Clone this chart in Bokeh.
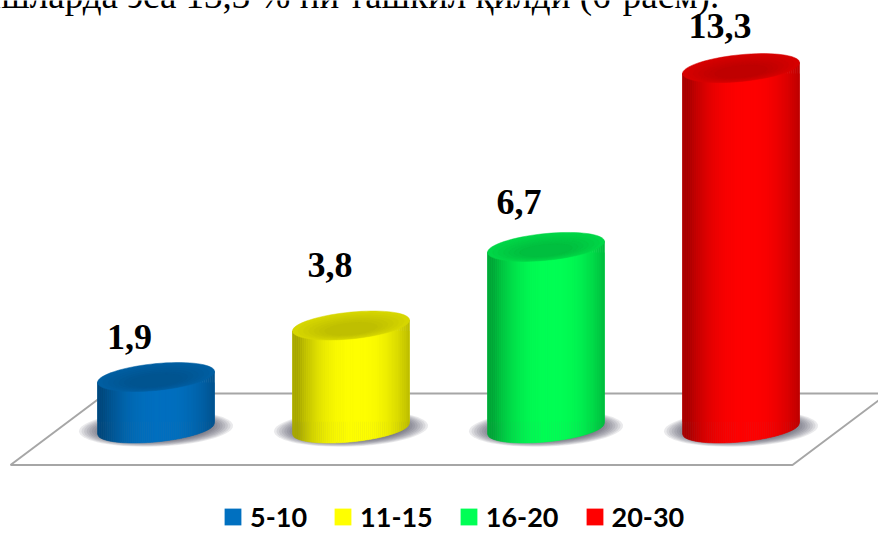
import numpy as np
from bokeh.plotting import figure
from bokeh.models import Range1d, Legend, LegendItem
from bokeh.core.properties import value
from bokeh.embed import file_html
from bokeh.resources import INLINE

categories = ["5-10", "11-15", "16-20", "20-30"]
values = [1.9, 3.8, 6.7, 13.3]
colors = ["#0070C0", "#FFFF00", "#00FF55", "#FF0000"]
caption = "ишларда эса 13,3 % ни ташкил қилди (6-расм)."

W, H = 878, 533
X0, DX = 155.5, 195.0      # px of first bar, px between bars
Y0, KY = 428.0, 27.1       # px of value 0, px per unit

def ix(px):
    return (np.asarray(px, dtype=float) - X0) / DX

def iy(px):
    return (Y0 - np.asarray(px, dtype=float)) / KY

p = figure(width=W, height=H, output_backend="svg", toolbar_location=None,
           x_range=Range1d(float(ix(0)), float(ix(W))),
           y_range=Range1d(float(iy(H)), float(iy(0))),
           min_border=0)
p.axis.visible = False
p.grid.visible = False
p.outline_line_color = None
p.background_fill_color = "#FFFFFF"

RX = 58.5 / DX
BY = 13.4 / KY
SHEAR = 5.5 / KY
N = 60

def shade(hexcol, m):
    r, g, b = int(hexcol[1:3], 16), int(hexcol[3:5], 16), int(hexcol[5:7], 16)
    return "#%02x%02x%02x" % (int(r * m), int(g * m), int(b * m))

# floor
FLOOR = "#A6A6A6"
p.line(ix([10, 792, 878]), iy([464.5, 464.5, 400]), line_color=FLOOR, line_width=2)
p.line(ix([10, 100]), iy([464.5, 397]), line_color=FLOOR, line_width=2)
p.line(ix([100, 878]), iy([393, 393]), line_color=FLOOR, line_width=2)

phi = np.linspace(0, 2 * np.pi, 73)

def sheared(cx, cy, a, b, s):
    return (cx + a * np.cos(phi)).tolist(), (cy + s * np.cos(phi) + b * np.sin(phi)).tolist()

bars = []
for i, (v, c) in enumerate(zip(values, colors)):
    # soft shadow around the base
    for k in np.linspace(1.0, 0.7, 10):
        sx, sy = sheared(i, 0.0, 77 / DX * k, 18 / KY * k, SHEAR * 0.5)
        p.patch(sx, sy, fill_color="#404050", fill_alpha=0.11, line_color=None)

    # solid bar (legend swatch colour)
    bars.append(p.vbar(x=[i], top=[v - SHEAR], bottom=[SHEAR + 0.05], width=2 * RX,
                       fill_color=c, line_color=None))

    # cylinder wall as shaded strips
    edges = np.linspace(-1, 1, N + 1)
    xs, ys, cols = [], [], []
    for a, b in zip(edges[:-1], edges[1:]):
        t = np.linspace(a, b, 3)
        xx = i + t * RX
        low = SHEAR * t - BY * np.sqrt(np.clip(1 - t ** 2, 0, 1))
        up = v + SHEAR * t
        xs.append(np.r_[xx, xx[::-1]].tolist())
        ys.append(np.r_[low, up[::-1]].tolist())
        tm = (a + b) / 2 - 0.1
        cols.append(shade(c, 0.66 + 0.34 * (1 - min(abs(tm), 1) ** 2.4)))
    p.patches(xs, ys, fill_color=cols, line_color=cols, line_width=0.6)

    # top face as nested ellipses
    for k, m in zip(np.linspace(1, 0.45, 7), np.linspace(0.84, 0.75, 7)):
        oy = -(1 - k) * BY * 0.45
        sx, sy = sheared(i, v + oy, RX * k, BY * k, SHEAR * k)
        p.patch(sx, sy, fill_color=shade(c, m), line_color=shade(c, m), line_width=0.5)

# value labels
label_dx = [-26.5, -21, -27, -21]
label_base = [336, 264, 201, 25]
p.text(x=[i + dx / DX for i, dx in enumerate(label_dx)],
       y=[float(iy(b)) for b in label_base],
       text=[f"{v:.1f}".replace(".", ",") for v in values],
       text_font=value("Liberation Serif"), text_font_style="bold", text_font_size="36px",
       text_align="center", text_baseline="alphabetic", text_color="#000000")

# cut-off line of running text above the chart
p.text(x=[float(ix(-19))], y=[float(iy(-5))], text=[caption],
       text_font=value("Liberation Serif"), text_font_size="37px",
       text_align="left", text_baseline="alphabetic", text_color="#000000")

legend = Legend(items=[LegendItem(label=c, renderers=[r]) for c, r in zip(categories, bars)],
                orientation="horizontal", location=(222, 0),
                glyph_width=21, glyph_height=21, label_standoff=7, spacing=25,
                padding=0, margin=0, border_line_color=None, background_fill_alpha=0,
                label_text_font="Lato", label_text_font_style="bold",
                label_text_font_size="27px", label_text_color="#000000",
                label_height=21, label_width=10)
p.add_layout(legend, "center")

open("out.html", "w").write(file_html(p, INLINE))
